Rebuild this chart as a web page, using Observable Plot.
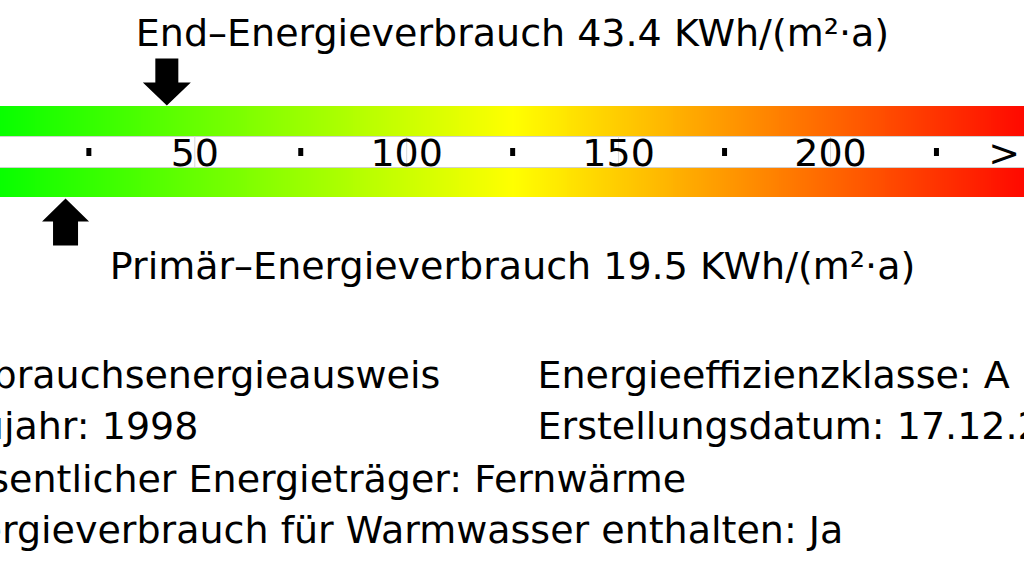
<!DOCTYPE html>
<html>
<head>
<meta charset="utf-8">
<script src="https://cdn.jsdelivr.net/npm/d3@7"></script>
<script src="https://cdn.jsdelivr.net/npm/@observablehq/plot@0.6"></script>
<style>
  html, body { margin: 0; padding: 0; background: #fff; overflow: hidden; }
  #chart svg { display: block; }
</style>
</head>
<body>
<div id="chart"></div>
<script>
// ---- data ----
const endValue = 43.4;
const primValue = 19.5;
const unit = "KWh/(m²·a)";
const scaleMax = 250;
const majorTicks = [50, 100, 150, 200];
const minorTicks = [25, 75, 125, 175, 225];
const overLabel = ">";
const overPos = 241;
const gradientStops = [0, 125, 250];
const gradientColors = ["#00ff00", "#ffff00", "#ff0000"];
const infoLeft = [
  "Verbrauchsenergieausweis",
  "Baujahr: 1998",
  "Wesentlicher Energieträger: Fernwärme",
  "Energieverbrauch für Warmwasser enthalten: Ja"
];
const infoRight = [
  "Energieeffizienzklasse: A",
  "Erstellungsdatum: 17.12.2018"
];

// ---- layout (pixels) ----
const L = {
  font: "DejaVu Sans", fs: 38,
  titleY: 33, primY: 266,
  bars: [{y1: 106, y2: 136}, {y1: 167, y2: 197}],
  tickY: 153, dotY1: 148, dotY2: 156,
  arrowDownY: 82, arrowUpY: 221,
  infoY: [375, 426, 479, 530],
  leftX: -70, rightX: 537
};

const arrowDown = {draw(c) {
  c.moveTo(-11.5, -24); c.lineTo(11.5, -24); c.lineTo(11.5, 0); c.lineTo(24, 0);
  c.lineTo(0, 23); c.lineTo(-24, 0); c.lineTo(-11.5, 0); c.closePath();
}};
const arrowUp = {draw(c) {
  c.moveTo(-12.5, 24); c.lineTo(12.5, 24); c.lineTo(12.5, 0); c.lineTo(23.5, 0);
  c.lineTo(0, -23); c.lineTo(-23.5, 0); c.lineTo(-12.5, 0); c.closePath();
}};

const steps = d3.range(0, scaleMax, 0.5);
const cells = L.bars.flatMap(b => steps.map(v => ({v, y1: b.y1, y2: b.y2})));
const leftRows = infoLeft.map((t, i) => ({t, y: L.infoY[i]}));
const rightRows = infoRight.map((t, i) => ({t, y: L.infoY[i]}));
const txt = {fontFamily: L.font, fontSize: L.fs, fill: "black"};

const chart = Plot.plot({
  width: 1024, height: 576,
  margin: 0,
  x: {domain: [0, scaleMax], range: [-17.6, 1041.9], axis: null},
  y: {type: "identity", axis: null},
  color: {type: "linear", domain: gradientStops, range: gradientColors, interpolate: "rgb"},
  style: {fontFamily: L.font, background: "white", overflow: "hidden"},
  marks: [
    Plot.rect(cells, {x1: "v", x2: d => d.v + 0.6, y1: "y1", y2: "y2", fill: "v", shapeRendering: "crispEdges"}),
    Plot.ruleY([L.bars[0].y2, L.bars[1].y1], {x1: 0, x2: scaleMax, stroke: "#d0d0d0", strokeWidth: 1}),
    Plot.ruleX(majorTicks, {x: d => d, y1: L.bars[0].y2, y2: L.bars[1].y1, stroke: "#d8d8d8", strokeWidth: 1}),
    Plot.ruleX(minorTicks, {x: d => d, y1: L.dotY1, y2: L.dotY2, stroke: "black", strokeWidth: 5}),
    Plot.text(majorTicks, {x: d => d, y: L.tickY, text: d => String(d), ...txt}),
    Plot.text([overLabel], {x: overPos, y: L.tickY, text: d => d, ...txt}),
    Plot.dot([endValue], {x: d => d, y: L.arrowDownY, symbol: arrowDown, fill: "black", stroke: null, r: 10}),
    Plot.dot([primValue], {x: d => d, y: L.arrowUpY, symbol: arrowUp, fill: "black", stroke: null, r: 10}),
    Plot.text([`End–Energieverbrauch ${endValue} ${unit}`], {frameAnchor: "middle", y: L.titleY, text: d => d, textAnchor: "middle", ...txt}),
    Plot.text([`Primär–Energieverbrauch ${primValue} ${unit}`], {frameAnchor: "middle", y: L.primY, text: d => d, textAnchor: "middle", ...txt}),
    Plot.text(leftRows, {frameAnchor: "left", dx: L.leftX, y: "y", text: "t", textAnchor: "start", ...txt}),
    Plot.text(rightRows, {frameAnchor: "left", dx: L.rightX, y: "y", text: "t", textAnchor: "start", ...txt})
  ]
});
document.getElementById("chart").appendChild(chart);
</script>
</body>
</html>
